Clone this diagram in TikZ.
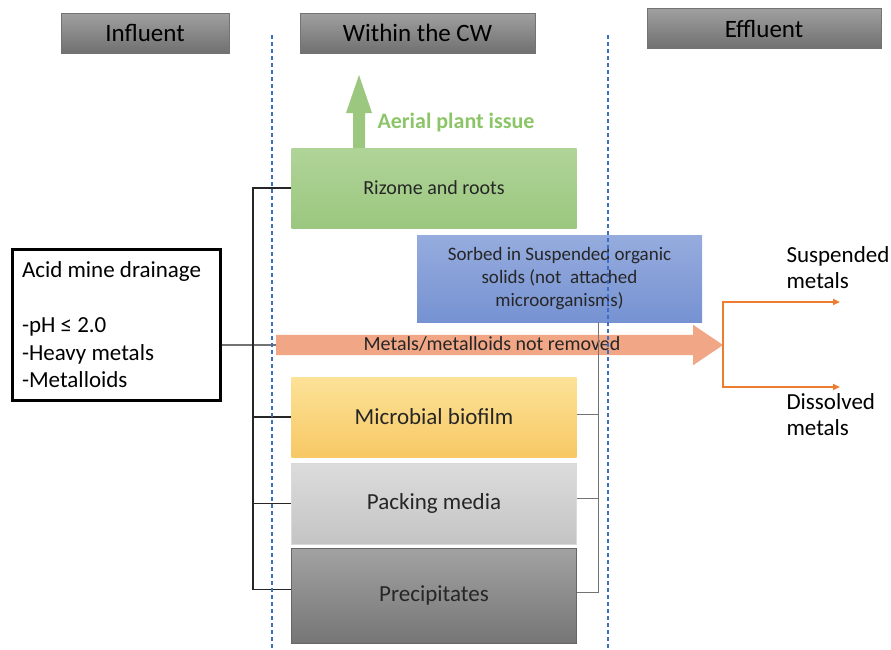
\documentclass[tikz,border=0pt]{standalone}
\usepackage{fontspec}
\setmainfont{Carlito}
\usepackage{xcolor}
\usetikzlibrary{shapes,arrows.meta,positioning,calc}

\definecolor{hdtop}{RGB}{160,160,160}
\definecolor{hdbot}{RGB}{112,112,112}
\definecolor{rootsA}{RGB}{176,212,152}
\definecolor{rootsB}{RGB}{155,199,127}
\definecolor{sorbA}{RGB}{150,172,222}
\definecolor{sorbB}{RGB}{118,146,210}
\definecolor{flowcol}{RGB}{241,166,134}
\definecolor{splitcol}{RGB}{237,125,49}
\definecolor{bioA}{RGB}{252,226,152}
\definecolor{bioB}{RGB}{247,200,100}
\definecolor{packA}{RGB}{220,220,220}
\definecolor{packB}{RGB}{196,196,196}
\definecolor{precA}{RGB}{162,162,162}
\definecolor{precB}{RGB}{118,118,118}
\definecolor{aerial}{RGB}{140,196,104}
\definecolor{guidecol}{RGB}{60,110,200}

\begin{document}
\begin{tikzpicture}[x=1pt, y=-1pt,
    head block/.style={draw=black!55, top color=hdtop, bottom color=hdbot, minimum height=40pt, font=\fontsize{25}{30}\selectfont},
    cw block/.style={minimum width=285pt, text=black!85, font=\fontsize{23}{27}\selectfont},
    guide/.style={draw=guidecol, line width=1.1pt, dash pattern=on 4pt off 3pt},
    link/.style={line width=1.4pt, black!85},
    back link/.style={line width=1pt, black!55},
    split/.style={line width=2pt, splitcol, -{Triangle[length=7pt,width=6pt]}}]
  \useasboundingbox (0,0) rectangle (891,649);

  % column headers
  \node[head block, minimum width=168pt] (infl) at (145,33) {Influent};
  \node[head block, minimum width=235pt] (within) at (417.5,33) {Within the CW};
  \node[head block, minimum width=234pt] (effl) at (764,28.5) {Effluent};

  % influent
  \node[draw, line width=3pt, text width=188pt, inner xsep=10pt, minimum height=151pt, align=left,
        font=\fontsize{23}{27.7}\selectfont] (amd) at (116,324.5)
        {\spaceskip=0pt\relax Acid mine drainage\\[27.7pt]-pH ≤ 2.0\\-Heavy metals\\-Metalloids};

  % compartments within the CW
  \node[cw block, minimum height=80pt, top color=rootsA, bottom color=rootsB,
        font=\fontsize{20}{24}\selectfont] (roots) at (434,188) {Rizome and roots};
  \node[cw block, minimum height=87pt, top color=sorbA, bottom color=sorbB, align=center,
        font=\fontsize{19}{23}\selectfont] (sorbed) at (559.5,278.5)
        {Sorbed in Suspended organic\\solids (not~ attached\\microorganisms)};
  \node[cw block, minimum height=80pt, top color=bioA, bottom color=bioB] (biofilm) at (434,417) {Microbial biofilm};
  \node[cw block, minimum height=81pt, top color=packA, bottom color=packB, draw=black!15] (packing) at (434,503.5) {Packing media};
  \node[cw block, minimum height=95pt, top color=precA, bottom color=precB, draw=black!60] (precip) at (434,595.5) {Precipitates};

  % aerial part
  \fill[rootsB] (353,148) -- (353,113) -- (346,113) -- (359,75) -- (372,113) -- (365,113) -- (365,148) -- cycle;
  \node[anchor=west, text=aerial, font=\bfseries\fontsize{22}{26}\selectfont] (aer) at (374,123) {Aerial plant issue};

  % not removed
  \node[single arrow, fill=flowcol, single arrow head extend=10pt, single arrow tip angle=68,
        minimum height=447pt, text height=14pt, text depth=4pt, inner ysep=1pt, inner xsep=4pt,
        text=black!85, font=\fontsize{20}{24}\selectfont] (flow) at (492,345) {Metals/metalloids not removed};

  % connectors
  \coordinate (trunk) at (253,0);
  \coordinate (back) at (598,0);
  \draw[link] (amd.east |- flow) -- (flow.west);
  \draw[link] (roots.west) -- (roots.west -| trunk) -- ([yshift=6pt]precip.west -| trunk) -- ([yshift=6pt]precip.west);
  \draw[link] (biofilm.west -| trunk) -- (biofilm.west);
  \draw[link] (packing.west -| trunk) -- (packing.west);
  \draw[back link] (sorbed.south -| back) -- ([yshift=3pt]precip.east -| back) -- ([yshift=3pt]precip.east);
  \draw[back link] ([yshift=3pt]biofilm.east) -- ([yshift=3pt]biofilm.east -| back);
  \draw[back link] ([yshift=5pt]packing.east) -- ([yshift=5pt]packing.east -| back);

  % effluent
  \coordinate (sm) at (840,302);
  \coordinate (dm) at (840,387);
  \draw[split] (flow.tip) |- (sm);
  \draw[split] (flow.tip) |- (dm);
  \node[anchor=west, align=left, font=\fontsize{23}{26}\selectfont] (susp) at (783,268) {Suspended\\metals};
  \node[anchor=west, align=left, font=\fontsize{23}{26}\selectfont] (diss) at (783,415) {Dissolved\\metals};

  % column borders
  \draw[guide] (272,35) -- (272,649);
  \draw[guide] (608,35) -- (608,649);
\end{tikzpicture}
\end{document}
